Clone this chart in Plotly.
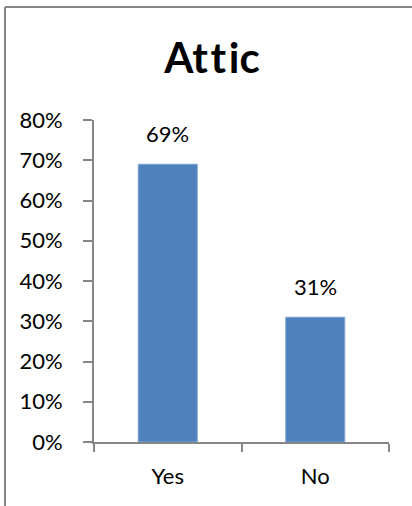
import plotly.graph_objects as go

categories = ["Yes", "No"]
shares = [0.69, 0.31]
y_ticks = [0, 0.1, 0.2, 0.3, 0.4, 0.5, 0.6, 0.7, 0.8]
y_tick_labels = ["0%", "10%", "20%", "30%", "40%", "50%", "60%", "70%", "80%"]

W, H = 412, 506
L, R, T, B = 94, 23, 120, 64
pw, ph = W - L - R, H - T - B

def px_x(px):
    return (px - L) / pw

def px_y(py):
    return (H - B - py) / ph

fig = go.Figure(
    go.Bar(
        x=categories,
        y=shares,
        marker=dict(color="#4F81BD", line=dict(color="#7EA1CF", width=1)),
        width=0.4,
        hoverinfo="skip",
    )
)

# value labels above each bar
for c, v in zip(categories, shares):
    fig.add_annotation(
        x=c, y=v, text=f"{round(v * 100)}%", showarrow=False,
        yanchor="bottom", yshift=15,
        font=dict(family="Lato", size=22, color="#000000"),
    )

axis_col = "#868686"
# chart frame (top and left edges)
fig.add_shape(type="line", xref="paper", yref="paper",
              x0=px_x(5), x1=px_x(420), y0=px_y(7), y1=px_y(7),
              line=dict(color=axis_col, width=2))
fig.add_shape(type="line", xref="paper", yref="paper",
              x0=px_x(5), x1=px_x(5), y0=px_y(7), y1=px_y(515),
              line=dict(color=axis_col, width=2))

fig.update_layout(
    width=W, height=H,
    margin=dict(l=L, r=R, t=T, b=B, pad=0),
    paper_bgcolor="white", plot_bgcolor="white",
    showlegend=False,
    # hair spaces keep Lato's tt / ti ligatures from forming
    title=dict(text="<b>At\u200at\u200aic</b>", x=212 / W, xref="container", xanchor="center",
               y=1 - 58 / H, yanchor="middle",
               font=dict(family="Lato", size=42, color="#000000")),
    font=dict(family="Lato", size=22, color="#000000"),
    xaxis=dict(
        type="category", showline=True, linecolor=axis_col, linewidth=2,
        ticks="outside", ticklen=8, tickcolor=axis_col, tickwidth=2,
        tickson="boundaries", showgrid=False, zeroline=False,
        tickfont=dict(family="Lato", size=22, color="#000000"),
        ticklabelstandoff=14,
    ),
    yaxis=dict(
        range=[0, 0.8], tickvals=y_ticks, ticktext=y_tick_labels,
        showline=True, linecolor=axis_col, linewidth=2,
        ticks="outside", ticklen=9, tickcolor=axis_col, tickwidth=2,
        showgrid=False, zeroline=False,
        tickfont=dict(family="Lato", size=22, color="#000000"),
        ticklabelstandoff=16,
    ),
)

fig.write_html("out.html")
